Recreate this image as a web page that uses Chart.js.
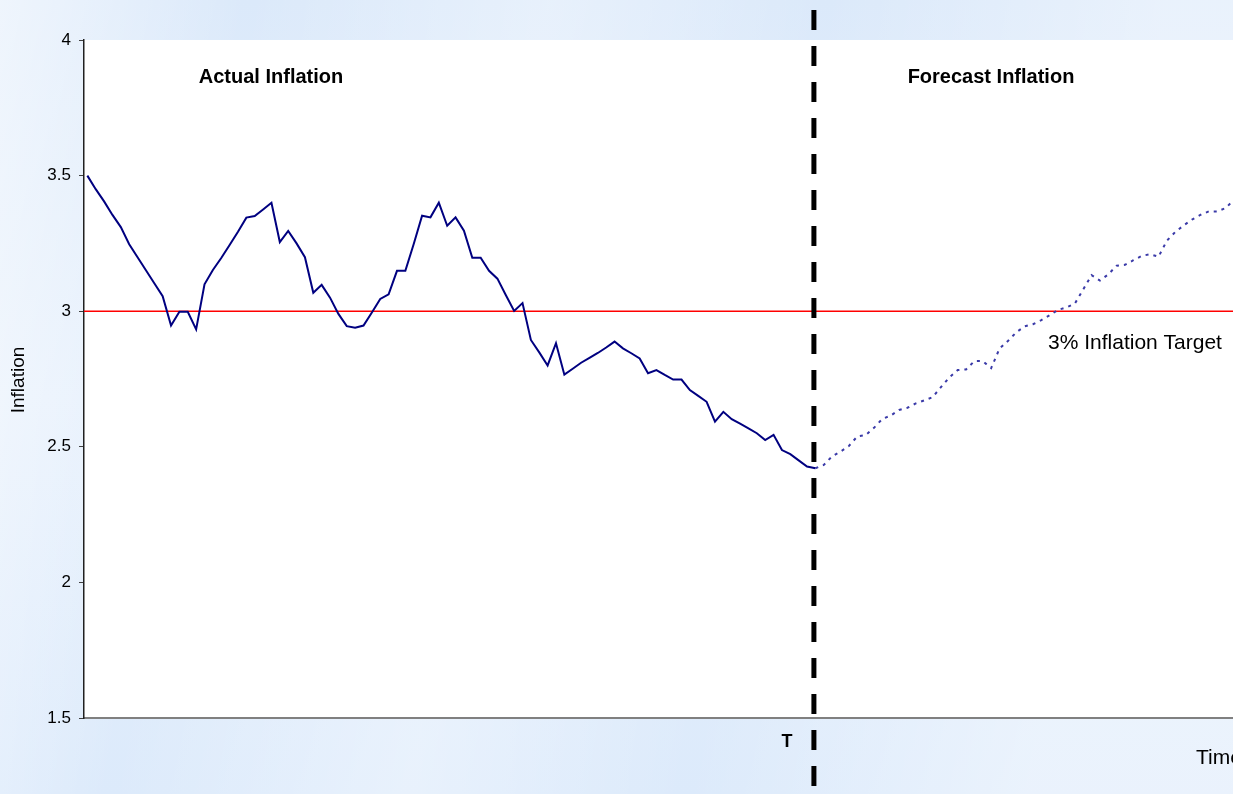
<!DOCTYPE html>
<html>
<head>
<meta charset="utf-8">
<script src="https://cdn.jsdelivr.net/npm/chart.js@4"></script>
<style>
  html, body { margin: 0; padding: 0; overflow: hidden; }
  body {
    width: 1233px; height: 794px;
    background:
      linear-gradient(100deg, rgba(255,255,255,0.55) 0%, rgba(255,255,255,0) 18%, rgba(255,255,255,0.35) 40%, rgba(255,255,255,0) 60%, rgba(255,255,255,0.4) 85%),
      linear-gradient(180deg, #dbe9fa 0%, #e6f0fc 50%, #dceafb 100%);
  }
  canvas { display: block; }
</style>
</head>
<body>
<canvas id="chart-1" width="1233" height="794"></canvas>
<script>
// actual inflation, one value per period up to T
const actualValues = [
  3.50, 3.45, 3.405, 3.355, 3.31, 3.247, 3.199, 3.151, 3.103, 3.055,
  2.947, 2.998, 2.998, 2.933, 3.099, 3.152, 3.196, 3.244, 3.293, 3.345,
  3.351, 3.375, 3.40, 3.255, 3.296, 3.25, 3.199, 3.068, 3.097, 3.05,
  2.99, 2.945, 2.939, 2.947, 2.995, 3.045, 3.062, 3.149, 3.149, 3.248,
  3.352, 3.346, 3.40, 3.315, 3.346, 3.297, 3.197, 3.197, 3.149, 3.12,
  3.06, 3.001, 3.030, 2.894, 2.848, 2.80, 2.882, 2.766, 2.788, 2.810,
  2.828, 2.846, 2.866, 2.888, 2.863, 2.845, 2.826, 2.771, 2.783, 2.765,
  2.748, 2.748, 2.709, 2.688, 2.666, 2.593, 2.629, 2.602, 2.585, 2.568,
  2.550, 2.525, 2.544, 2.488, 2.473, 2.45, 2.427, 2.421
];
// forecast, starting at T
const forecastValues = [
  2.421, 2.433, 2.465, 2.482, 2.503, 2.538, 2.543, 2.570, 2.603, 2.615,
  2.636, 2.644, 2.66, 2.671, 2.683, 2.72, 2.756, 2.783, 2.785, 2.816,
  2.816, 2.79, 2.862, 2.89, 2.922, 2.944, 2.952, 2.967, 2.985, 3.005,
  3.014, 3.028, 3.08, 3.133, 3.113, 3.136, 3.168, 3.171, 3.188, 3.204,
  3.21, 3.201, 3.26, 3.292, 3.316, 3.338, 3.355, 3.368, 3.368, 3.38,
  3.41, 3.43
];
const yTicks = [1.5, 2, 2.5, 3, 3.5, 4];
const TARGET = 3;
const T_INDEX = actualValues.length - 1;

const FONT = '"Liberation Sans", Arial, sans-serif';

function toPoints(values, start) {
  return values.map((v, i) => ({ x: start + i, y: v }));
}

// white plot area, target line, T marker and the text labels
const decorations = {
  id: 'decorations',
  beforeDraw(chart) {
    const { ctx, chartArea: a } = chart;
    ctx.save();
    ctx.fillStyle = '#ffffff';
    ctx.fillRect(a.left, a.top, a.right - a.left, a.bottom - a.top);
    ctx.restore();
  },
  beforeDatasetsDraw(chart) {
    const { ctx, chartArea: a, scales: { y } } = chart;
    ctx.save();
    const ty = y.getPixelForValue(TARGET);
    ctx.strokeStyle = '#ff0000';
    ctx.lineWidth = 1.5;
    ctx.beginPath();
    ctx.moveTo(a.left, ty);
    ctx.lineTo(a.right, ty);
    ctx.stroke();
    ctx.restore();
  },
  afterDraw(chart) {
    const { ctx, scales: { x } } = chart;
    ctx.save();
    // T line
    const tx = x.getPixelForValue(T_INDEX) - 1.5;
    ctx.strokeStyle = '#000';
    ctx.lineWidth = 5;
    ctx.setLineDash([20, 16]);
    ctx.beginPath();
    ctx.moveTo(tx, -26);
    ctx.lineTo(tx, chart.height);
    ctx.stroke();
    ctx.setLineDash([]);

    ctx.fillStyle = '#000';
    ctx.textBaseline = 'middle';
    ctx.textAlign = 'center';
    ctx.font = 'bold 20px ' + FONT;
    ctx.fillText('Actual Inflation', 271, 77);
    ctx.fillText('Forecast Inflation', 991, 77);
    ctx.font = 'bold 18px ' + FONT;
    ctx.fillText('T', 787, 742);

    ctx.font = '21px ' + FONT;
    ctx.textAlign = 'left';
    ctx.fillText('3% Inflation Target', 1048, 343);
    ctx.fillText('Time', 1196, 758);

    ctx.translate(19, 380);
    ctx.rotate(-Math.PI / 2);
    ctx.textAlign = 'center';
    ctx.font = '19px ' + FONT;
    ctx.fillText('Inflation', 0, 0);
    ctx.restore();
  }
};

const chart1 = new Chart(document.getElementById('chart-1'), {
  type: 'line',
  data: {
    datasets: [
      {
        label: 'Actual Inflation',
        data: toPoints(actualValues, 0),
        borderColor: '#000080',
        borderWidth: 2,
        pointRadius: 0,
        tension: 0
      },
      {
        label: 'Forecast Inflation',
        data: toPoints(forecastValues, T_INDEX),
        borderColor: '#3a3aa8',
        borderWidth: 2,
        borderDash: [3, 5],
        pointRadius: 0,
        tension: 0
      }
    ]
  },
  options: {
    responsive: false,
    animation: false,
    devicePixelRatio: 1,
    layout: { padding: { top: 40, left: 0, right: 0, bottom: 0 } },
    plugins: { legend: { display: false }, tooltip: { enabled: false } },
    scales: {
      x: {
        type: 'linear',
        min: -0.4,
        max: 136.9,
        ticks: { display: false },
        grid: { display: false },
        border: { color: '#808080', width: 2 },
        afterFit(scale) { scale.height = 76; }
      },
      y: {
        min: 1.5,
        max: 4,
        afterBuildTicks(scale) { scale.ticks = yTicks.map(v => ({ value: v })); },
        ticks: {
          color: '#000',
          font: { family: FONT, size: 17 },
          padding: 8,
          callback: v => String(v)
        },
        grid: { drawOnChartArea: false, tickLength: 5, color: '#404040' },
        border: { color: '#202020', width: 1.5 },
        afterFit(scale) { scale.width = 84; }
      }
    }
  },
  plugins: [decorations]
});
</script>
</body>
</html>
